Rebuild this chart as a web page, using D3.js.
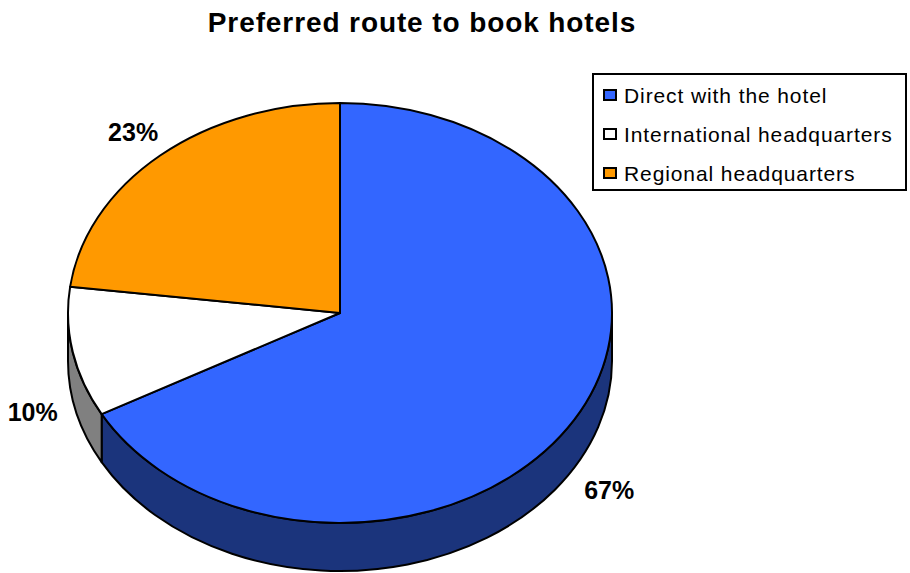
<!DOCTYPE html>
<html>
<head>
<meta charset="utf-8">
<script src="https://cdn.jsdelivr.net/npm/d3@7"></script>
<style>
  html, body { margin: 0; padding: 0; background: #fff; }
  svg { display: block; font-family: "Liberation Sans", Arial, sans-serif; }
</style>
</head>
<body>
<svg id="chart" width="910" height="573"></svg>
<script>
// Survey shares: how hotels are booked
const categories = ["Direct with the hotel", "International headquarters", "Regional headquarters"];
const values = [67, 10, 23];
const topColors = ["#3366FF", "#FFFFFF", "#FF9900"];
const sideColors = ["#1B347C", "#808080", "#8C5400"];

const svg = d3.select("#chart");

// Ellipse geometry of the tilted pie
const cx = 340, cy = 313, rx = 272, ry = 210, depth = 48;

// Angles measured clockwise from 12 o'clock
const pie = d3.pie().sort(null).value(d => d.value);
const arcs = pie(values.map((v, i) => ({ value: v, i })));

const px = a => cx + rx * Math.sin(a);
const py = a => cy - ry * Math.cos(a);

function ellipseArc(a0, a1, dy, sweep) {
  const large = Math.abs(a1 - a0) > Math.PI ? 1 : 0;
  return `A${rx},${ry} 0 ${large} ${sweep} ${px(a1)},${py(a1) + dy}`;
}

function topPath(d) {
  return `M${cx},${cy}L${px(d.startAngle)},${py(d.startAngle)}` +
    ellipseArc(d.startAngle, d.endAngle, 0, 1) + "Z";
}

// Outer wall: only the front half (PI/2 .. 3PI/2) faces the viewer
function sidePath(d) {
  const a0 = Math.max(d.startAngle, Math.PI / 2);
  const a1 = Math.min(d.endAngle, 3 * Math.PI / 2);
  if (a1 <= a0) return null;
  return `M${px(a0)},${py(a0)}` + ellipseArc(a0, a1, 0, 1) +
    `L${px(a1)},${py(a1) + depth}` +
    `A${rx},${ry} 0 ${Math.abs(a1 - a0) > Math.PI ? 1 : 0} 0 ${px(a0)},${py(a0) + depth}Z`;
}

const g = svg.append("g");

g.selectAll("path.side")
  .data(arcs.filter(d => sidePath(d) !== null))
  .join("path")
  .attr("class", "side")
  .attr("d", sidePath)
  .attr("fill", d => sideColors[d.index])
  .attr("stroke", "#000")
  .attr("stroke-width", 2)
  .attr("stroke-linejoin", "round");

g.selectAll("path.top")
  .data(arcs)
  .join("path")
  .attr("class", "top")
  .attr("d", topPath)
  .attr("fill", d => topColors[d.index])
  .attr("stroke", "#000")
  .attr("stroke-width", 2)
  .attr("stroke-linejoin", "round");

// Percentage labels outside the rim
const total = d3.sum(values);
const k = 1.15;
g.selectAll("text.pct")
  .data(arcs)
  .join("text")
  .attr("class", "pct")
  .attr("x", d => { const m = (d.startAngle + d.endAngle) / 2; return cx + k * rx * Math.sin(m); })
  .attr("y", d => {
    const m = (d.startAngle + d.endAngle) / 2;
    const base = cy - k * ry * Math.cos(m);
    return Math.cos(m) < 0 ? base + depth + 6 : base;
  })
  .attr("text-anchor", "middle")
  .attr("dominant-baseline", "central")
  .attr("font-size", 25)
  .attr("font-weight", "bold")
  .attr("fill", "#000")
  .text(d => Math.round(d.value / total * 100) + "%");

// Title
svg.append("text")
  .attr("x", 422)
  .attr("y", 32)
  .attr("text-anchor", "middle")
  .attr("font-size", 28)
  .attr("font-weight", "bold")
  .attr("letter-spacing", 0.9)
  .text("Preferred route to book hotels");

// Legend
const legend = svg.append("g").attr("transform", "translate(593,74)");
legend.append("rect")
  .attr("width", 313).attr("height", 116)
  .attr("fill", "#fff").attr("stroke", "#000").attr("stroke-width", 2);

const rowY = d3.scalePoint().domain(categories).range([21, 99]);
const item = legend.selectAll("g.item")
  .data(categories)
  .join("g")
  .attr("class", "item")
  .attr("transform", d => `translate(0,${rowY(d)})`);

item.append("rect")
  .attr("x", 11).attr("y", -5)
  .attr("width", 12).attr("height", 10)
  .attr("fill", (d, i) => topColors[i])
  .attr("stroke", "#000").attr("stroke-width", 2);

item.append("text")
  .attr("x", 31)
  .attr("y", 0)
  .attr("dominant-baseline", "central")
  .attr("font-size", 21)
  .attr("letter-spacing", 0.9)
  .text(d => d);
</script>
</body>
</html>
